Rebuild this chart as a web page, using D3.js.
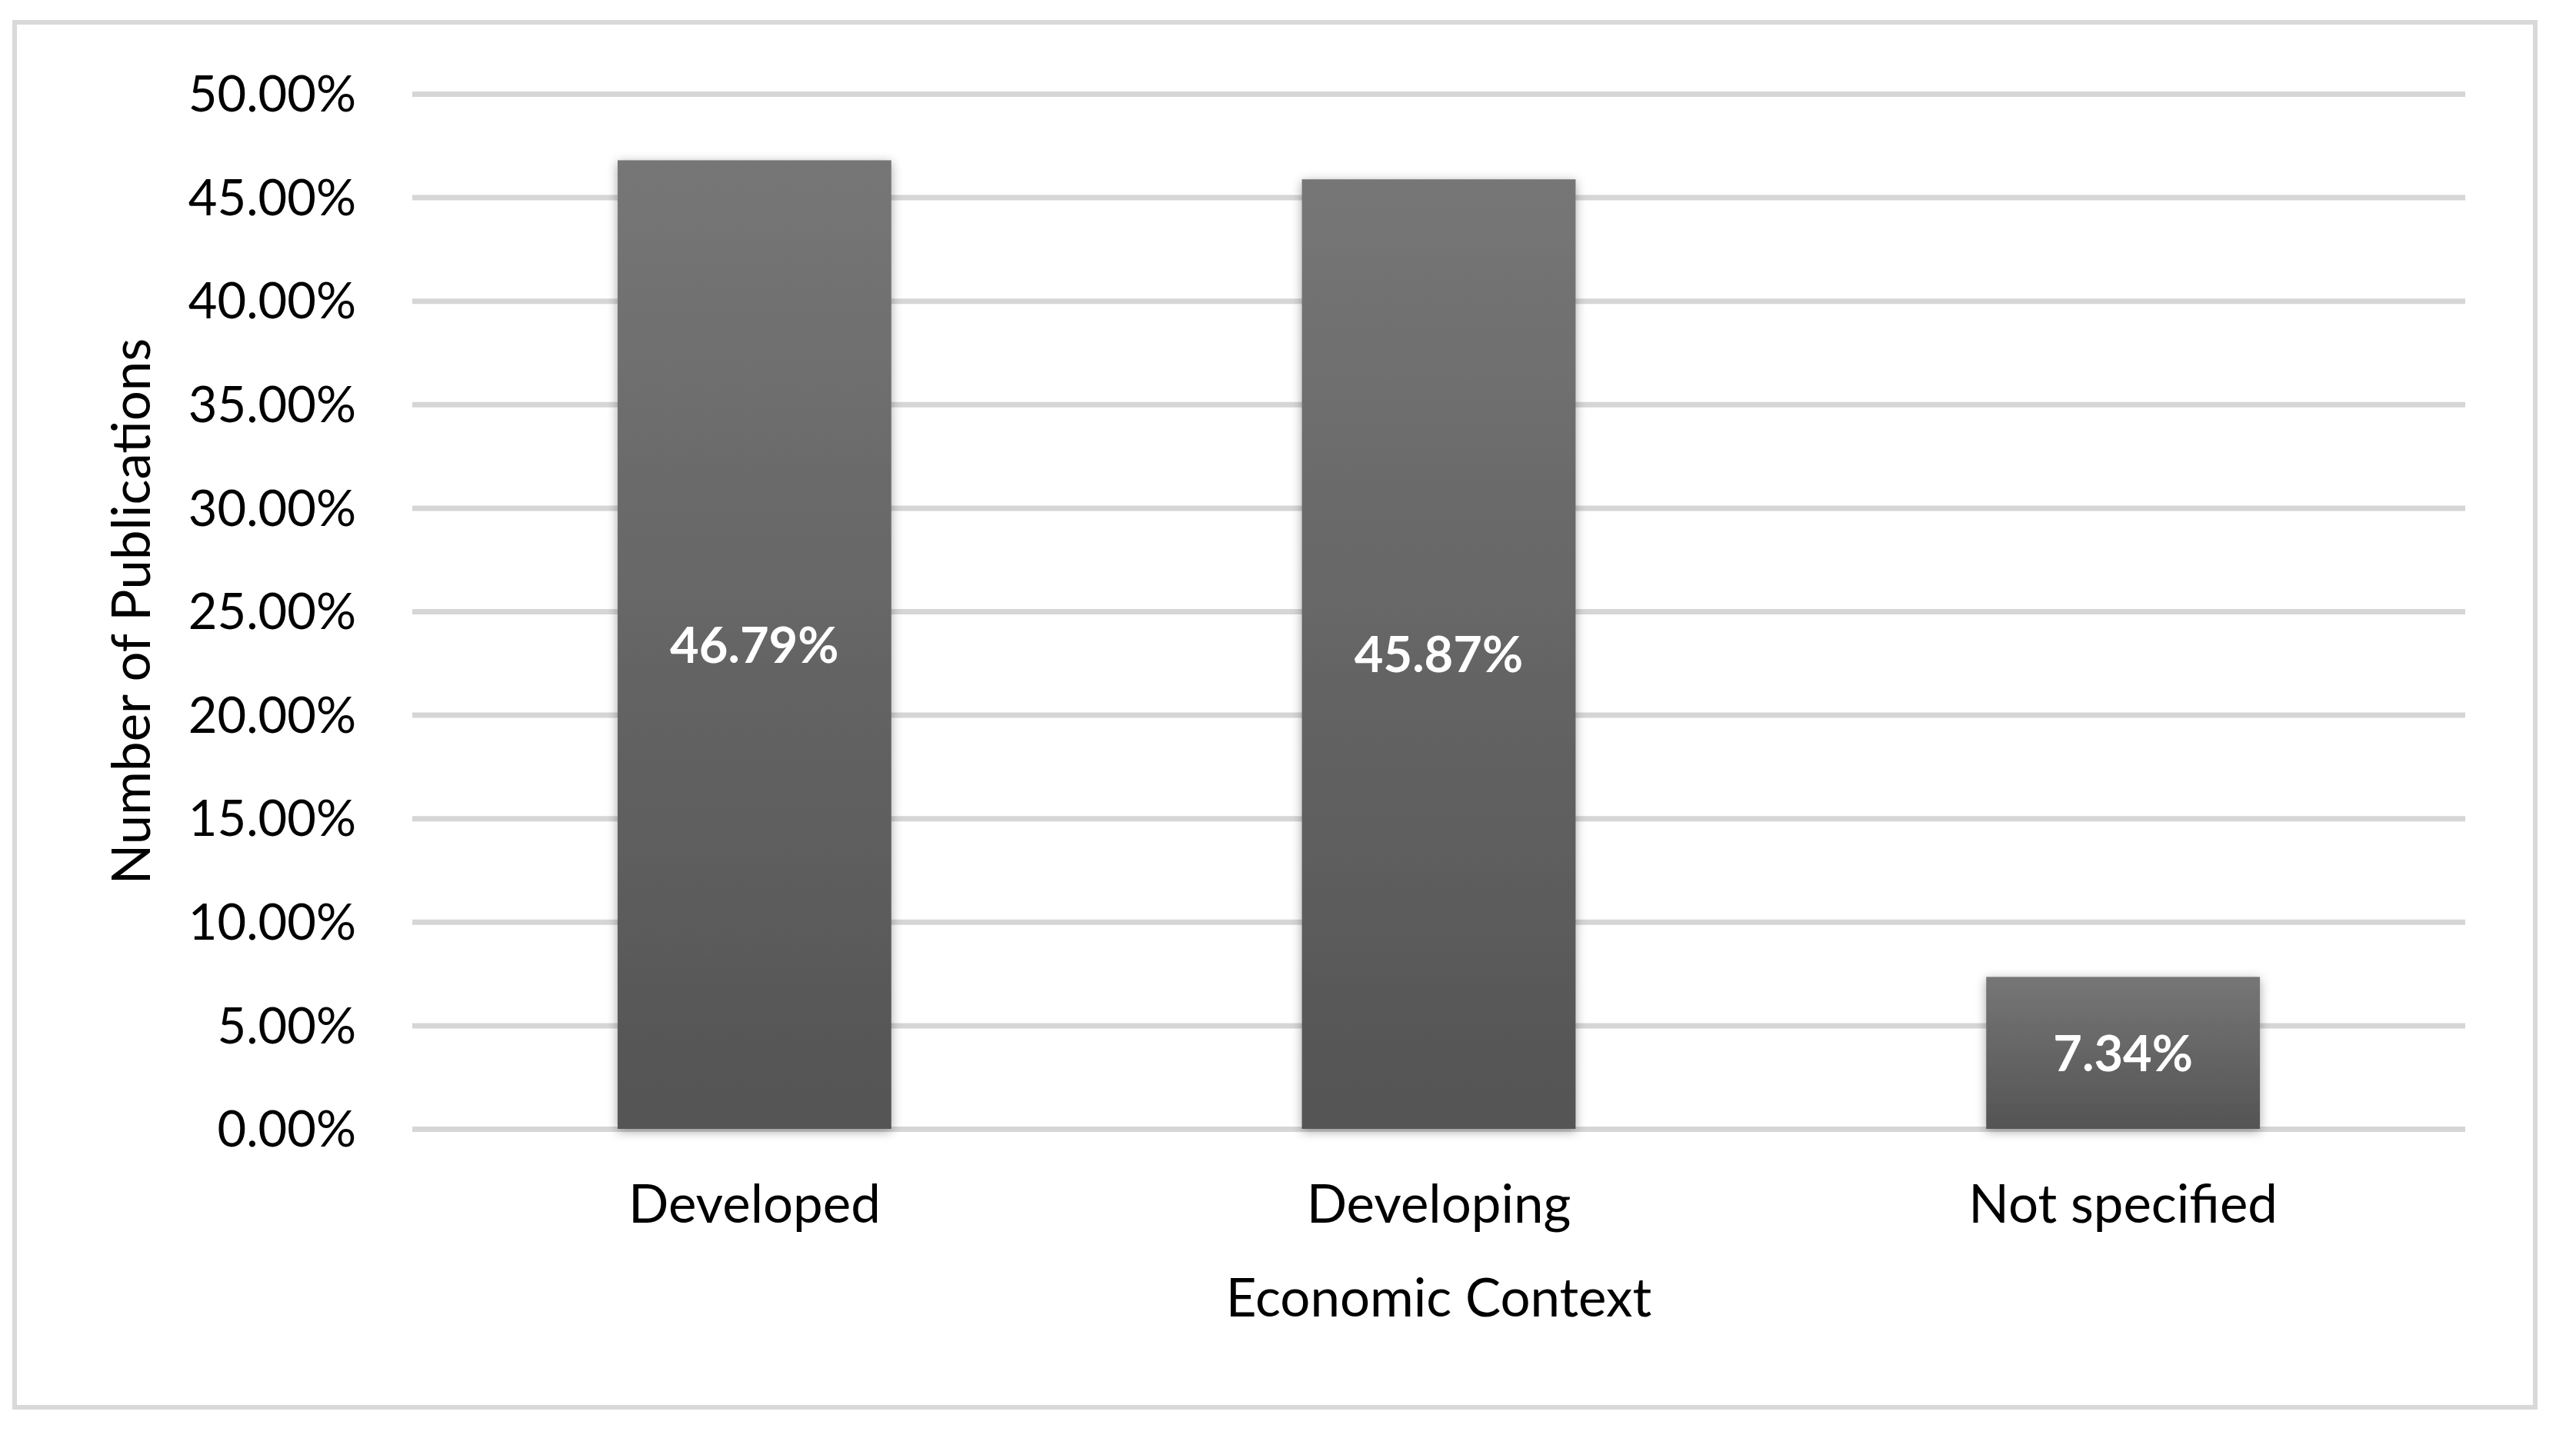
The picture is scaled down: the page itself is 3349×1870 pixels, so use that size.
<!DOCTYPE html>
<html>
<head>
<meta charset="utf-8">
<script src="https://cdn.jsdelivr.net/npm/d3@7"></script>
<style>
  html, body { margin: 0; padding: 0; background: #fff; }
  svg { display: block; }
  text { font-family: Lato, "Open Sans", sans-serif; }
</style>
</head>
<body>
<svg id="chart" width="3349" height="1870"></svg>
<script>
const categories = ["Developed", "Developing", "Not specified"];
const values = [46.79, 45.87, 7.34];
const labels = ["46.79%", "45.87%", "7.34%"];
const yTicks = [0, 5, 10, 15, 20, 25, 30, 35, 40, 45, 50];
const xTitle = "Economic Context";
const yTitle = "Number of Publications";

const svg = d3.select("#chart");
const W = 3349, H = 1870;
const plot = { left: 536, right: 3205, top: 122, bottom: 1468 };

const defs = svg.append("defs");
const grad = defs.append("linearGradient").attr("id", "barGrad")
  .attr("x1", 0).attr("y1", 0).attr("x2", 0).attr("y2", 1);
grad.append("stop").attr("offset", "0%").attr("stop-color", "#767676");
grad.append("stop").attr("offset", "100%").attr("stop-color", "#545454");
const f = defs.append("filter").attr("id", "shadow")
  .attr("x", "-20%").attr("y", "-20%").attr("width", "140%").attr("height", "140%");
f.append("feDropShadow").attr("dx", 0).attr("dy", 3).attr("stdDeviation", 7)
  .attr("flood-color", "#000").attr("flood-opacity", 0.35);

svg.append("rect").attr("width", W).attr("height", H).attr("fill", "#fff");
svg.append("rect").attr("x", 19).attr("y", 29).attr("width", 3296 - 19).attr("height", 1830 - 29)
  .attr("fill", "#fff").attr("stroke", "#d9d9d9").attr("stroke-width", 6);

const x = d3.scaleBand().domain(categories).range([plot.left, plot.right]).paddingInner(0.6).paddingOuter(0.3);
const y = d3.scaleLinear().domain([0, 50]).range([plot.bottom, plot.top]);

// gridlines
const yAxis = d3.axisLeft(y).tickValues(yTicks).tickSize(-(plot.right - plot.left))
  .tickFormat(d => d.toFixed(2) + "%").tickPadding(73);
const gy = svg.append("g").attr("transform", `translate(${plot.left},0)`).call(yAxis);
gy.select(".domain").remove();
gy.selectAll(".tick line").attr("stroke", "#d6d6d6").attr("stroke-width", 7);
gy.selectAll(".tick text").attr("font-size", 65).attr("fill", "#000").attr("dy", "0.35em");

// bars
svg.append("g").selectAll("rect").data(categories).join("rect")
  .attr("x", d => x(d)).attr("width", x.bandwidth())
  .attr("y", (d, i) => y(values[i])).attr("height", (d, i) => y(0) - y(values[i]))
  .attr("fill", "url(#barGrad)").attr("filter", "url(#shadow)");

// data labels
svg.append("g").selectAll("text").data(categories).join("text")
  .attr("x", d => x(d) + x.bandwidth() / 2)
  .attr("y", (d, i) => (y(values[i]) + y(0)) / 2)
  .attr("dy", "0.36em")
  .attr("text-anchor", "middle").attr("font-size", 65).attr("font-weight", "bold").attr("fill", "#fff")
  .text((d, i) => labels[i]);

// x axis labels
const xAxis = d3.axisBottom(x).tickSize(0).tickPadding(0);
const gx = svg.append("g").attr("transform", `translate(0,${plot.bottom})`).call(xAxis);
gx.select(".domain").remove();
gx.selectAll(".tick text").attr("font-size", 69).attr("fill", "#000").attr("dy", 0).attr("y", 122);

// axis titles
svg.append("text").attr("x", (plot.left + plot.right) / 2).attr("y", 1712)
  .attr("text-anchor", "middle").attr("font-size", 69).attr("fill", "#000").text(xTitle);
svg.append("text").attr("transform", `translate(195,${(plot.top + plot.bottom) / 2}) rotate(-90)`)
  .attr("text-anchor", "middle").attr("font-size", 69).attr("fill", "#000").text(yTitle);
</script>
</body>
</html>
